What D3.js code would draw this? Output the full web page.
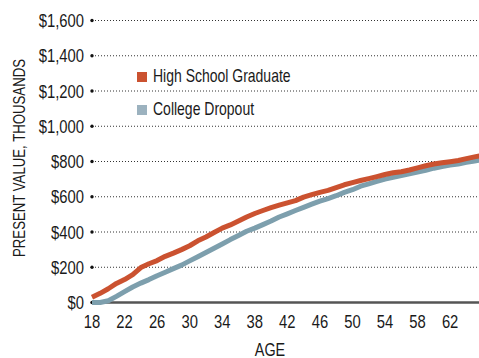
<!DOCTYPE html>
<html><head><meta charset="utf-8">
<script src="https://cdn.jsdelivr.net/npm/d3@7"></script>
<style>
body{margin:0;background:#fff;}
svg{display:block;font-family:"Liberation Sans",Arial,sans-serif;}
</style></head>
<body><svg id="c" width="479" height="358"></svg>
<script>
const ages = [18,19,20,21,22,23,24,25,26,27,28,29,30,31,32,33,34,35,36,37,38,39,40,41,42,43,44,45,46,47,48,49,50,51,52,53,54,55,56,57,58,59,60,61,62,63,64,65,66];
const highSchool = [30,52,78,108,130,158,198,220,238,262,280,300,322,350,372,397,422,440,462,485,505,522,538,552,565,578,598,612,625,636,652,668,680,692,703,714,726,736,742,752,764,776,786,793,799,806,816,826,836];
const dropout = [0,0,10,35,62,88,110,130,152,172,192,212,236,260,284,308,332,357,380,404,422,442,462,485,503,522,540,558,575,590,606,625,640,660,673,687,700,710,720,730,740,750,762,772,780,786,795,803,810];
const yTicks = [0,200,400,600,800,1000,1200,1400,1600];
const xTicks = [18,22,26,30,34,38,42,46,50,54,58,62];
const seriesNames = ["High School Graduate","College Dropout"];
const lineColors = ["#cb5230","#7d9fad"];
const legendColors = ["#cb5230","#9cb2bf"];

const SX = 0.8; // condensed look
const svg = d3.select("#c");
const x = d3.scaleLinear().domain([18,65.55]).range([92,479]);
const y = d3.scaleLinear().domain([0,1600]).range([302.5,20.5]);
const fmt = v => "$" + d3.format(",")(v);

svg.append("defs").append("clipPath").attr("id","clip")
  .append("rect").attr("x",80).attr("y",0).attr("width",399).attr("height",358);

// gridlines
svg.append("g").selectAll("line").data(yTicks.filter(d=>d>0)).join("line")
  .attr("x1",x(18)).attr("x2",479).attr("y1",d=>y(d)).attr("y2",d=>y(d))
  .attr("stroke","#333").attr("stroke-width",1).attr("stroke-dasharray","1,2");
// baseline
svg.append("line").attr("x1",x(18)+3).attr("x2",479).attr("y1",y(0)).attr("y2",y(0))
  .attr("stroke","#555").attr("stroke-width",2.5);
// tick dots
svg.append("g").selectAll("circle").data(yTicks).join("circle")
  .attr("cx",x(18)).attr("cy",d=>y(d)).attr("r",1.7).attr("fill","#111");
// y labels
svg.append("g").selectAll("g").data(yTicks).join("g")
  .attr("transform",d=>`translate(84,${y(d)}) scale(${SX},1)`)
  .append("text").attr("dy","0.36em").attr("text-anchor","end")
  .attr("font-size",18.5).attr("fill","#1a1a1a").text(fmt);
// x labels
svg.append("g").selectAll("g").data(xTicks).join("g")
  .attr("transform",d=>`translate(${x(d)},328) scale(${SX},1)`)
  .append("text").attr("text-anchor","middle")
  .attr("font-size",18.5).attr("fill","#1a1a1a").text(d=>d);
// axis titles
svg.append("g").attr("transform",`translate(270,356) scale(${SX},1)`)
  .append("text").attr("text-anchor","middle")
  .attr("font-size",18).attr("fill","#1a1a1a").text("AGE");
svg.append("g").attr("transform",`translate(25,158) rotate(-90) scale(${SX},1)`)
  .append("text").attr("text-anchor","middle")
  .attr("font-size",16.5).attr("fill","#1a1a1a").text("PRESENT VALUE, THOUSANDS");

// lines
const line = d3.line().x((d,i)=>x(ages[i])).y(d=>y(d));
const g = svg.append("g").attr("clip-path","url(#clip)");
g.append("path").datum(dropout).attr("d",line).attr("fill","none")
  .attr("stroke",lineColors[1]).attr("stroke-width",5).attr("stroke-linejoin","round");
g.append("path").datum(highSchool).attr("d",line).attr("fill","none")
  .attr("stroke",lineColors[0]).attr("stroke-width",5).attr("stroke-linejoin","round");

// legend
const lg = svg.append("g").selectAll("g").data(seriesNames).join("g")
  .attr("transform",(d,i)=>`translate(137,${72+i*33})`);
lg.append("rect").attr("width",10).attr("height",10).attr("fill",(d,i)=>legendColors[i]);
lg.append("g").attr("transform",`translate(16,10) scale(${SX},1)`)
  .append("text").attr("font-size",17.5).attr("fill","#1a1a1a").text(d=>d);
</script></body></html>
